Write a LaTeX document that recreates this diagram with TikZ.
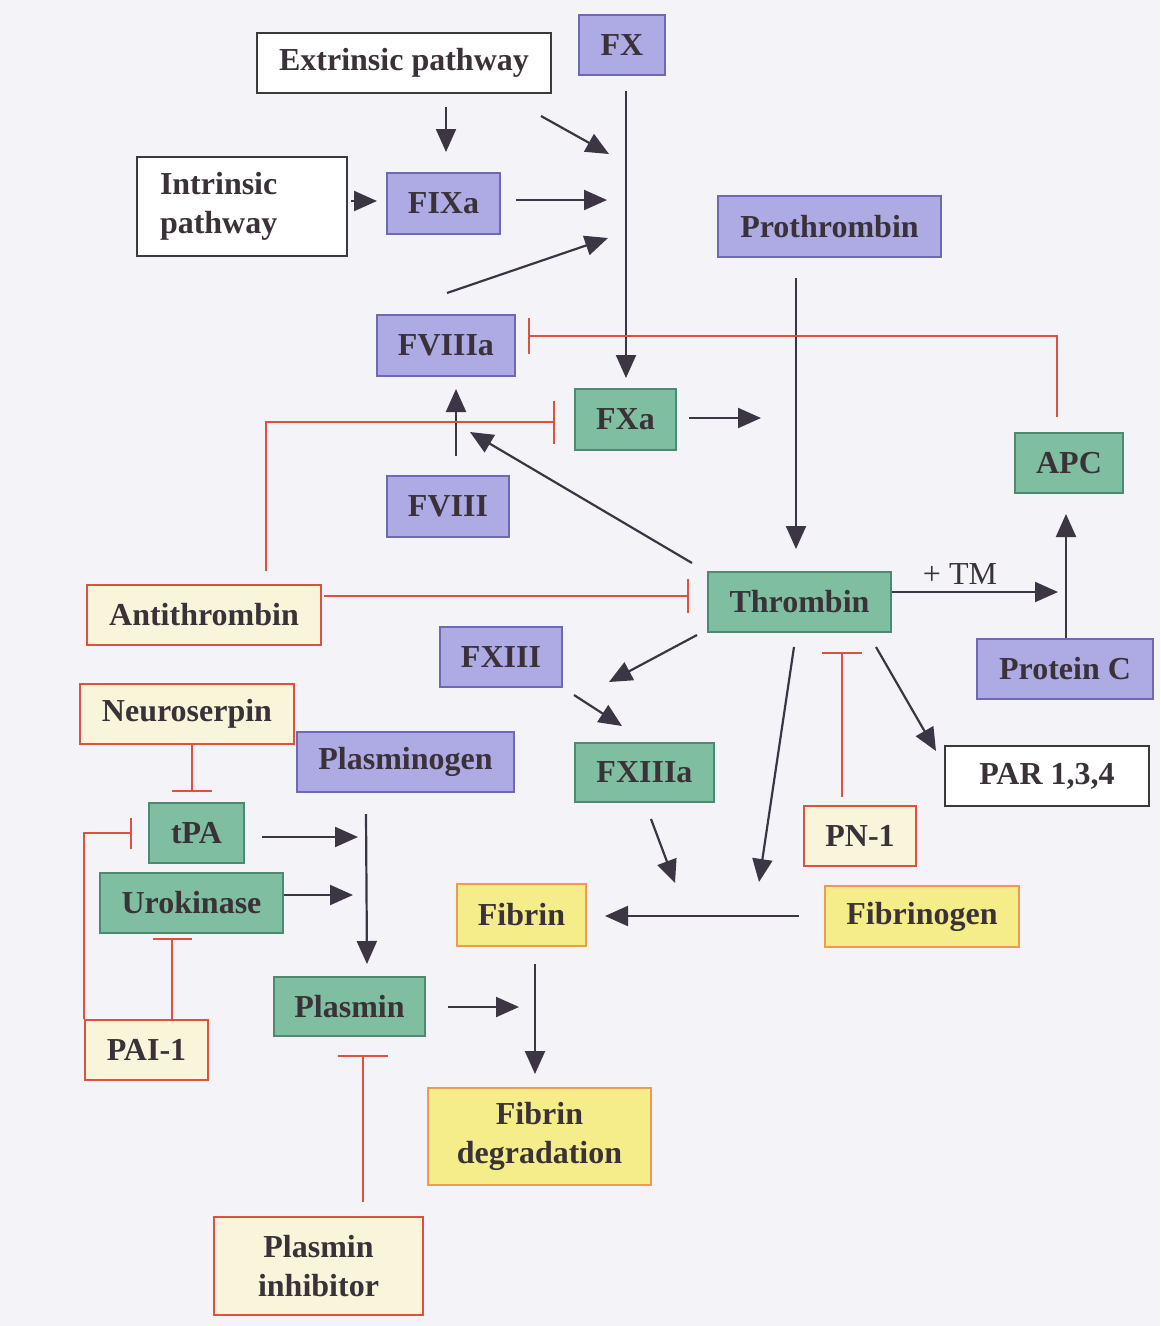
\documentclass[tikz,border=0pt]{standalone}
\usepackage{fontspec}
\setmainfont{Liberation Serif}
\usetikzlibrary{arrows.meta,calc}

\definecolor{bg}{HTML}{F3F3F8}
\definecolor{ink}{HTML}{3A3238}
\definecolor{arrowc}{HTML}{3C3644}
\definecolor{inhred}{HTML}{E0503F}
\definecolor{lavfill}{HTML}{ADAAE4}
\definecolor{lavdraw}{HTML}{6D69B4}
\definecolor{grnfill}{HTML}{80BEA2}
\definecolor{grndraw}{HTML}{4E8A70}
\definecolor{crmfill}{HTML}{F8F5DA}
\definecolor{crmdraw}{HTML}{DD5140}
\definecolor{yelfill}{HTML}{F5ED8A}
\definecolor{yeldraw}{HTML}{EF9A4C}
\definecolor{pathdraw}{HTML}{3A3A3A}

% box from its corners (x1,y1) -- (x2,y2), y measured downwards
\newcommand\mkbox[7]{%
  \node[#6, minimum width={#4-#2}, minimum height={#5-#3}]
    (#1) at ({(#2+#4)/2},{(#3+#5)/2}) {#7};}

\tikzset{
  box/.style={line width=2pt, inner sep=0pt, text=ink, align=center,
    font=\bfseries\fontsize{32}{39}\selectfont},
  plain/.style={box, draw=pathdraw, fill=white},
  lav/.style={box, draw=lavdraw, fill=lavfill},
  grn/.style={box, draw=grndraw, fill=grnfill},
  crm/.style={box, draw=crmdraw, fill=crmfill},
  yel/.style={box, draw=yeldraw, fill=yelfill},
  arr/.style={draw=arrowc, line width=2.2pt, -{Triangle[length=23pt,width=20pt]}},
  inh/.style={draw=inhred, line width=2pt, -{Bar[width=#1]}},
  inh/.default=40pt,
}

\begin{document}
\begin{tikzpicture}[x=1pt,y=-1pt]
\fill[bg] (0,0) rectangle (1160,1326);
\useasboundingbox (0,0) rectangle (1160,1326);

% ---- factors and inhibitors ----
\mkbox{ext}{257}{33}{551}{93}{plain}{Extrinsic pathway}
\mkbox{fx}{579}{15}{665}{75}{lav}{FX}
\mkbox{intr}{137}{157}{347}{256}{plain, align=left, inner xsep=23pt, text width=164pt}{Intrinsic\\pathway}
\mkbox{fixa}{387}{173}{500}{234}{lav}{FIXa}
\mkbox{pro}{718}{196}{941}{257}{lav}{Prothrombin}
\mkbox{fviiia}{377}{315}{515}{376}{lav}{FVIIIa}
\mkbox{fxa}{575}{389}{676}{450}{grn}{FXa}
\mkbox{fviii}{387}{476}{509}{537}{lav}{FVIII}
\mkbox{apc}{1015}{433}{1123}{493}{grn}{APC}
\mkbox{thr}{708}{572}{891}{632}{grn}{Thrombin}
\mkbox{at}{87}{585}{321}{645}{crm}{Antithrombin}
\mkbox{fxiii}{440}{627}{562}{687}{lav}{FXIII}
\mkbox{pc}{977}{639}{1153}{699}{lav}{Protein C}
\mkbox{ns}{80}{684}{294}{744}{crm}{Neuroserpin}
\mkbox{plg}{297}{732}{514}{792}{lav}{Plasminogen}
\mkbox{fxiiia}{575}{743}{714}{802}{grn}{FXIIIa}
\mkbox{par}{945}{746}{1149}{806}{plain}{PAR 1,3,4}
\mkbox{tpa}{149}{803}{244}{863}{grn}{tPA}
\mkbox{pn1}{804}{806}{916}{866}{crm}{PN-1}
\mkbox{uro}{100}{873}{283}{933}{grn}{Urokinase}
\mkbox{fib}{457}{884}{586}{946}{yel}{Fibrin}
\mkbox{fgn}{825}{886}{1019}{947}{yel}{Fibrinogen}
\mkbox{pls}{274}{977}{425}{1036}{grn}{Plasmin}
\mkbox{pai}{85}{1020}{208}{1080}{crm}{PAI-1}
\mkbox{fdeg}{428}{1088}{651}{1185}{yel}{Fibrin\\degradation}
\mkbox{pinh}{214}{1217}{423}{1315}{crm}{Plasmin\\inhibitor}

\node[text=ink, font=\fontsize{32}{39}\selectfont] (tm) at (960,574) {+ TM};

% ---- points where arrows meet a reaction line ----
\coordinate (j1) at (607,200);
\coordinate (j2) at (609,154);
\coordinate (j3) at (608,238);
\coordinate (j4) at (470,432);
\coordinate (j5) at (761,418);
\coordinate (j6) at (609,682);
\coordinate (j7) at (759,882);
\coordinate (j8) at (675,883);
\coordinate (j9) at (1058,592);
\coordinate (j10) at (358,837);
\coordinate (j11) at (353,895);
\coordinate (j12) at (519,1007);

% ---- activation arrows ----
\draw[arr] ($(ext.south)+(42,13)$) -- ($(fixa.north)+(2.5,-20)$);
\draw[arr] ($(intr.east)+(3,-5.5)$) -- ($(fixa.west)+(-9,-2.5)$);
\draw[arr] ($(fx.south)+(4,15)$) -- ($(fxa.north)+(0.5,-10)$);
\draw[arr] ($(fixa.east)+(15,-3.5)$) -- (j1);
\draw[arr] ($(ext.south east)+(-11,22)$) -- (j2);
\draw[arr] ($(fviiia.north)+(1,-21)$) -- (j3);
\draw[arr] ($(fviii.north)+(8,-19)$) -- ($(fviiia.south)+(10,12)$);
\draw[arr] ($(thr.north west)+(-15,-8)$) -- (j4);
\draw[arr] ($(fxa.east)+(12,-1.5)$) -- (j5);
\draw[arr] ($(pro.south)+(-33.5,20)$) -- ($(thr.north)+(-3.5,-22)$);
\draw[arr] ($(thr.south west)+(-10,2)$) -- (j6);
\draw[arr] ($(fxiii.south east)+(11,7)$) -- ($(fxiiia.north)+(-22.5,-16)$);
\draw[arr] ($(thr.south)+(-5.5,14)$) -- (j7);
\draw[arr] ($(fxiiia.south)+(6.5,16)$) -- (j8);
\draw[arr] ($(thr.south east)+(-16,14)$) -- ($(par.north west)+(-8,6)$);
\draw[arr] ($(thr.east)+(0,-10)$) -- (j9);
\draw[arr] ($(pc.north)+(1,0)$) -- ($(apc.south)+(-3,20)$);
\draw[arr] ($(fgn.west)+(-25,-0.5)$) -- ($(fib.east)+(18,1)$);
\draw[arr] ($(tpa.east)+(17,4)$) -- (j10);
\draw[arr] ($(uro.east)+(0,-8)$) -- (j11);
\draw[arr] ($(plg.south west)+(70,21)$) -- ($(pls.north)+(17.5,-12)$);
\draw[arr] ($(pls.east)+(22,0.5)$) -- (j12);
\draw[arr] ($(fib.south)+(13.5,17)$) -- ($(fdeg.north)+(-4.5,-13)$);

% ---- inhibition lines ----
\draw[inh=36pt] ($(apc.north)+(-12,-15)$) |- ($(fviiia.east)+(12,-9.5)$);
\draw[inh=43pt] ($(at.north)+(62,-13)$) |- ($(fxa.west)+(-19,2.5)$);
\draw[inh=34pt] ($(at.east)+(2,-19)$) -- ($(thr.west)+(-18,-6)$);
\draw[inh=40pt] ($(pn1.north)+(-18,-8)$) -- ($(thr.south)+(42.5,19)$);
\draw[inh=40pt] ($(ns.south)+(5,0)$) -- ($(tpa.north)+(-4.5,-10)$);
\draw[inh=31pt] (pai.north west) |- ($(tpa.west)+(-16,0)$);
\draw[inh=39pt] ($(pai.north)+(25.5,0)$) -- ($(uro.south)+(-19.5,4)$);
\draw[inh=50pt] ($(pinh.north)+(44.5,-14)$) -- ($(pls.south)+(13.5,18)$);
\end{tikzpicture}
\end{document}
